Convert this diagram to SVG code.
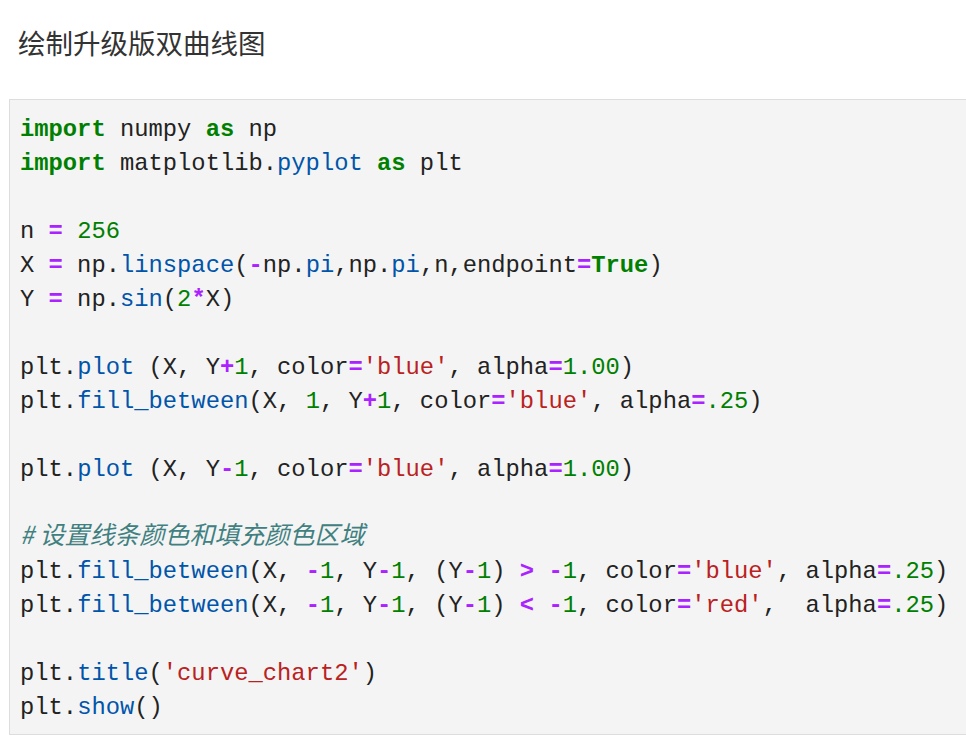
<svg xmlns="http://www.w3.org/2000/svg" width="966" height="738" viewBox="0 0 966 738">
<style>
.c{font-family:"Liberation Mono","Noto Sans CJK SC",monospace;font-size:23.8px;fill:#222;white-space:pre}
.k{fill:#008000;font-weight:bold}
.o{fill:#aa22ff;font-weight:bold}
.n{fill:#008000}
.s{fill:#ba2121}
.a{fill:#0055aa}
.m{fill:#408080;font-style:italic;font-family:"Noto Sans CJK SC",sans-serif;font-size:25px}
</style>
<rect width="966" height="738" fill="#fff"/>
<g id="title"><text x="18" y="54" font-family="Noto Sans CJK SC,sans-serif" font-size="27.5" fill="#333">绘制升级版双曲线图</text></g>
<g id="codebox">
<rect x="9.5" y="99.5" width="960" height="635" fill="#f4f4f4" stroke="#ddd"/>
<text class="c" xml:space="preserve">
<tspan x="20" y="136"><tspan class="k">import</tspan> numpy <tspan class="k">as</tspan> np</tspan>
<tspan x="20" y="170"><tspan class="k">import</tspan> matplotlib.<tspan class="a">pyplot</tspan> <tspan class="k">as</tspan> plt</tspan>
<tspan x="20" y="238">n <tspan class="o">=</tspan> <tspan class="n">256</tspan></tspan>
<tspan x="20" y="272">X <tspan class="o">=</tspan> np.<tspan class="a">linspace</tspan>(<tspan class="o">-</tspan>np.<tspan class="a">pi</tspan>,np.<tspan class="a">pi</tspan>,n,endpoint<tspan class="o">=</tspan><tspan class="k">True</tspan>)</tspan>
<tspan x="20" y="306">Y <tspan class="o">=</tspan> np.<tspan class="a">sin</tspan>(<tspan class="n">2</tspan><tspan class="o">*</tspan>X)</tspan>
<tspan x="20" y="374">plt.<tspan class="a">plot</tspan> (X, Y<tspan class="o">+</tspan><tspan class="n">1</tspan>, color<tspan class="o">=</tspan><tspan class="s">'blue'</tspan>, alpha<tspan class="o">=</tspan><tspan class="n">1.00</tspan>)</tspan>
<tspan x="20" y="408">plt.<tspan class="a">fill_between</tspan>(X, <tspan class="n">1</tspan>, Y<tspan class="o">+</tspan><tspan class="n">1</tspan>, color<tspan class="o">=</tspan><tspan class="s">'blue'</tspan>, alpha<tspan class="o">=</tspan><tspan class="n">.25</tspan>)</tspan>
<tspan x="20" y="476">plt.<tspan class="a">plot</tspan> (X, Y<tspan class="o">-</tspan><tspan class="n">1</tspan>, color<tspan class="o">=</tspan><tspan class="s">'blue'</tspan>, alpha<tspan class="o">=</tspan><tspan class="n">1.00</tspan>)</tspan>
<tspan x="20" y="544" class="m"># 设置线条颜色和填充颜色区域</tspan>
<tspan x="20" y="578">plt.<tspan class="a">fill_between</tspan>(X, <tspan class="o">-</tspan><tspan class="n">1</tspan>, Y<tspan class="o">-</tspan><tspan class="n">1</tspan>, (Y<tspan class="o">-</tspan><tspan class="n">1</tspan>) <tspan class="o">&gt;</tspan> <tspan class="o">-</tspan><tspan class="n">1</tspan>, color<tspan class="o">=</tspan><tspan class="s">'blue'</tspan>, alpha<tspan class="o">=</tspan><tspan class="n">.25</tspan>)</tspan>
<tspan x="20" y="612">plt.<tspan class="a">fill_between</tspan>(X, <tspan class="o">-</tspan><tspan class="n">1</tspan>, Y<tspan class="o">-</tspan><tspan class="n">1</tspan>, (Y<tspan class="o">-</tspan><tspan class="n">1</tspan>) <tspan class="o">&lt;</tspan> <tspan class="o">-</tspan><tspan class="n">1</tspan>, color<tspan class="o">=</tspan><tspan class="s">'red'</tspan>,  alpha<tspan class="o">=</tspan><tspan class="n">.25</tspan>)</tspan>
<tspan x="20" y="680">plt.<tspan class="a">title</tspan>(<tspan class="s">'curve_chart2'</tspan>)</tspan>
<tspan x="20" y="714">plt.<tspan class="a">show</tspan>()</tspan>
</text>
</g>
</svg>
